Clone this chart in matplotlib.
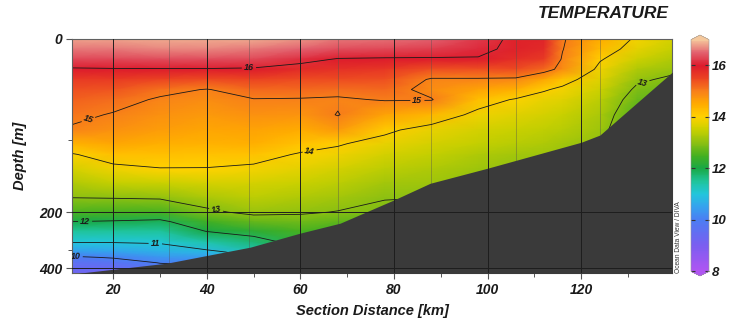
import numpy as np
import matplotlib
matplotlib.use("Agg")
import matplotlib.pyplot as plt
from matplotlib.colors import LinearSegmentedColormap, Normalize

plt.rcParams['font.family'] = ['Liberation Sans', 'DejaVu Sans']

# ---------------- data ----------------
distance_km = [11, 20, 30, 40, 50, 60, 68, 78, 88, 98, 106, 112, 116, 124, 132, 140]
depth_m = [0, 10, 20, 30, 40, 50, 60, 75, 90, 105, 120, 140, 160, 180, 200,
           225, 250, 280, 310, 340, 370, 400, 440]

# temperature profiles (one list per distance column, top to bottom)
t11 = [16.8, 16.6, 16.3, 15.95, 15.6, 15.4, 15.25, 15.1, 14.95, 14.4, 13.95, 13.6, 13.3, 13.0, 12.55, 12.0, 11.5, 11.0, 10.4, 9.9, 9.6, 9.4, 9.2]
t20 = [16.8, 16.6, 16.3, 15.97, 15.6, 15.35, 15.15, 14.97, 14.8, 14.55, 14.25, 13.87, 13.45, 13.02, 12.5, 11.95, 11.5, 11.0, 10.5, 10.05, 9.7, 9.4, 9.2]
t30 = [16.85, 16.65, 16.35, 15.97, 15.5, 15.12, 14.95, 14.8, 14.65, 14.45, 14.25, 13.98, 13.5, 13.05, 12.5, 11.87, 11.5, 11.03, 10.7, 10.35, 10.02, 9.8, 9.6]
t40 = [16.85, 16.65, 16.35, 15.97, 15.45, 14.98, 14.85, 14.7, 14.55, 14.4, 14.2, 13.98, 13.6, 13.25, 12.9, 12.45, 12.02, 11.35, 10.8, 10.4, 10.1, 9.9, 9.7]
t50 = [16.85, 16.6, 16.3, 15.95, 15.5, 15.2, 14.98, 14.8, 14.6, 14.45, 14.2, 13.9, 13.6, 13.4, 13.12, 12.72, 12.25, 11.7, 11.3, 11.0, 10.7, 10.4, 10.2]
t60 = [16.75, 16.5, 16.15, 15.8, 15.45, 15.18, 14.97, 14.75, 14.5, 14.22, 13.95, 13.75, 13.5, 13.3, 13.06, 12.8, 12.5, 12.2, 11.9, 11.6, 11.3, 11.0, 10.8]
t68 = [16.6, 16.35, 15.97, 15.7, 15.45, 15.15, 14.94, 15.02, 14.7, 14.05, 13.85, 13.6, 13.4, 13.2, 12.98, 12.7, 12.4, 12.1, 11.8, 11.5, 11.2, 11.0, 10.8]
t78 = [16.55, 16.3, 15.95, 15.65, 15.4, 15.2, 15.03, 14.6, 14.1, 13.8, 13.6, 13.4, 13.2, 13.02, 12.9, 12.6, 12.3, 12.0, 11.7, 11.4, 11.1, 10.9, 10.7]
t88 = [16.5, 16.25, 15.95, 15.4, 14.95, 14.85, 15.03, 14.35, 13.8, 13.6, 13.45, 13.3, 13.15, 13.0, 12.85, 12.6, 12.3, 12.0, 11.7, 11.4, 11.1, 10.9, 10.7]
t98 = [16.2, 16.1, 15.97, 15.4, 14.95, 14.6, 14.25, 13.85, 13.6, 13.45, 13.3, 13.15, 13.0, 12.9, 12.8, 12.6, 12.3, 12.0, 11.7, 11.4, 11.1, 10.9, 10.7]
t106 = [15.9, 15.9, 15.75, 15.45, 14.92, 14.45, 13.95, 13.7, 13.5, 13.35, 13.2, 13.05, 12.95, 12.85, 12.75, 12.6, 12.3, 12.0, 11.7, 11.4, 11.1, 10.9, 10.7]
t112 = [15.85, 15.8, 15.6, 15.2, 14.55, 14.05, 13.8, 13.6, 13.42, 13.28, 13.15, 13.02, 12.92, 12.82, 12.72, 12.57, 12.3, 12.0, 11.7, 11.4, 11.1, 10.9, 10.7]
t116 = [15.05, 15.02, 14.95, 14.85, 14.2, 13.9, 13.7, 13.5, 13.35, 13.2, 13.1, 13.0, 12.9, 12.8, 12.7, 12.55, 12.3, 12.0, 11.7, 11.4, 11.1, 10.9, 10.7]
t124 = [14.5, 14.3, 14.05, 13.85, 13.7, 13.55, 13.4, 13.25, 13.15, 13.05, 12.95, 12.85, 12.8, 12.7, 12.6, 12.5, 12.3, 12.0, 11.7, 11.4, 11.1, 10.9, 10.7]
t132 = [13.9, 13.75, 13.55, 13.3, 13.08, 12.9, 12.75, 12.6, 12.5, 12.45, 12.4, 12.35, 12.3, 12.25, 12.2, 12.1, 12.0, 11.9, 11.7, 11.4, 11.1, 10.9, 10.7]
t140 = [13.6, 13.45, 13.3, 13.1, 12.9, 12.75, 12.6, 12.5, 12.45, 12.4, 12.35, 12.3, 12.25, 12.2, 12.15, 12.1, 12.0, 11.9, 11.7, 11.4, 11.1, 10.9, 10.7]
columns = [t11, t20, t30, t40, t50, t60, t68, t78, t88, t98, t106, t112, t116, t124, t132, t140]

bathy_km = [11, 13, 31.5, 49.3, 60, 68.5, 80, 87.7, 100, 120, 124, 139.4, 141]
bathy_depth = [445, 430, 372, 292, 255, 229, 183, 160, 139, 103, 95, 33, 30]

stations_km = [32, 49, 68, 88, 106, 124]

contour_levels = [10, 11, 12, 13, 14, 15, 16]
label_spots = [(49, 28), (15, 84), (85, 63), (62, 116), (42, 196), (133, 41),
               (14, 225), (29, 282), (12, 334)]

xticks = [20, 40, 60, 80, 100, 120]
xminor = [30, 50, 70, 90, 110, 130]
yticks = [0, 200, 400]
yminor = [100, 300]
cbar_ticks = [8, 10, 12, 14, 16]

# ---------------- colours ----------------
cnodes = [(8.0, '#b055f2'), (9.0, '#7a5ef0'), (10.0, '#4a7ef3'), (10.5, '#35a2ee'),
          (11.0, '#22c6dc'), (11.5, '#1fc49a'), (12.0, '#19a845'), (12.5, '#45b020'),
          (13.0, '#8cc012'), (13.5, '#c8d000'), (14.0, '#ffd200'), (14.5, '#ffac00'),
          (15.0, '#f8801a'), (15.5, '#ec4522'), (16.0, '#dc1a2c'), (16.5, '#e2606e'),
          (17.0, '#f5c89c')]
vmin, vmax = 8.0, 17.0
cmap = LinearSegmentedColormap.from_list(
    'odv', [((v - vmin) / (vmax - vmin), c) for v, c in cnodes])
cmap.set_over('#f5c89c')
cmap.set_under('#b055f2')
norm = Normalize(vmin, vmax)

# ---------------- figure ----------------
fig = plt.figure(figsize=(7.31, 3.31), dpi=100)
ax = fig.add_axes([72 / 731, 58 / 331, 600 / 731, 234 / 331])

depth_nodes = [-1000, 0, 100, 200, 300, 400, 1000]
pos_nodes = [-1010, 0, 101, 173, 211, 229, 325]
ax.set_yscale('function', functions=(lambda d: np.interp(d, depth_nodes, pos_nodes),
                                     lambda p: np.interp(p, pos_nodes, depth_nodes)))

Xg, Dg = np.meshgrid(distance_km, depth_m)
T = np.array(columns).T

mesh = ax.pcolormesh(Xg, Dg, T, cmap=cmap, norm=norm, shading='gouraud', zorder=1)

for s in stations_km:
    ax.axvline(s, color='#505050', lw=0.5, alpha=0.55, zorder=1.5)

cs = ax.contour(Xg, Dg, T, levels=contour_levels, colors='#1a1a1a',
                linewidths=0.6, zorder=2)
lbls = ax.clabel(cs, fmt='%d', fontsize=6.5, inline=True, inline_spacing=2,
                 manual=label_spots)
for t in lbls:
    t.set_fontweight('bold')
    t.set_fontstyle('italic')

ax.fill_between(bathy_km, bathy_depth, 460, color='#3a3a3a', lw=0, zorder=3)

for xv in xticks:
    ax.axvline(xv, color='#1e1e1e', lw=0.7, zorder=4)
for yv in yticks[1:]:
    ax.axhline(yv, color='#1e1e1e', lw=0.7, zorder=4)

ax.set_xlim(11.2, 139.4)
ax.set_ylim(430, 0)
ax.set_xticks(xticks)
ax.set_xticks(xminor, minor=True)
ax.set_yticks(yticks)
ax.set_yticks(yminor, minor=True)
ax.tick_params(axis='both', which='major', direction='out', length=4, width=0.8,
               color='#555555', labelsize=10, pad=3)
ax.tick_params(axis='both', which='minor', direction='out', length=3, width=0.7,
               color='#555555')
for lab in ax.get_xticklabels() + ax.get_yticklabels():
    lab.set_fontweight('bold')
    lab.set_fontstyle('italic')
    lab.set_color('#1a1a1a')
for sp in ax.spines.values():
    sp.set_color('#606060')
    sp.set_linewidth(0.8)

ax.set_xlabel('Section Distance [km]', fontsize=10.5, fontweight='bold',
              fontstyle='italic', labelpad=5, color='#1a1a1a')
ax.set_ylabel('Depth [m]', fontsize=10.5, fontweight='bold', fontstyle='italic',
              labelpad=9, color='#1a1a1a')

fig.text(603 / 731, 1 - 14 / 331, 'TEMPERATURE', fontsize=12.5, fontweight='bold',
         fontstyle='italic', ha='center', va='center', color='#1a1a1a')
fig.text(678 / 731, 58 / 331, 'Ocean Data View / DIVA', fontsize=4.8, rotation=90,
         ha='center', va='bottom', color='#333333')

cax = fig.add_axes([691 / 731, 55 / 331, 18 / 731, 241 / 331])
cb = fig.colorbar(mesh, cax=cax, extend='both', extendfrac=0.02, ticks=cbar_ticks)
cb.outline.set_linewidth(0.4)
cb.outline.set_edgecolor('#999999')
cb.ax.tick_params(direction='in', length=3, width=0.8, left=True, right=True,
                  color='#333333', labelsize=9.5, pad=2)
for lab in cb.ax.get_yticklabels():
    lab.set_fontweight('bold')
    lab.set_fontstyle('italic')
    lab.set_color('#1a1a1a')

fig.savefig('out.png', dpi=100)
